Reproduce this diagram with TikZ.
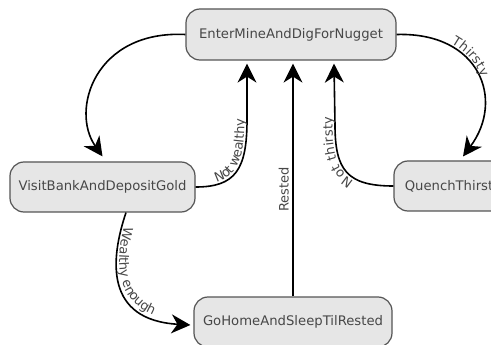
\documentclass[tikz,border=0pt]{standalone}
\usepackage{fontspec}
\setmainfont{DejaVu Sans}
\usetikzlibrary{arrows.meta,decorations.text}
\definecolor{nodefill}{HTML}{E6E6E6}
\definecolor{nodeborder}{HTML}{555555}
\definecolor{txtgray}{HTML}{474747}
\newcommand\statefont{\fontsize{13.2}{16}\selectfont}
\newcommand\lblsize{\fontsize{13}{16}\selectfont}
\tikzset{
  state/.style={draw=nodeborder, line width=1.2pt, fill=nodefill, rounded corners=14pt,
    text=txtgray, font=\statefont, inner sep=0pt},
  trans/.style={line width=1.6pt, -{Stealth[length=19pt,width=19pt,inset=6pt]}},
  lbl/.style 2 args={postaction={decorate, decoration={text along path,
    text={#2}, text color=txtgray, raise=2.5pt, text align={left indent=#1}}}},
  plainlbl/.style={text=txtgray, font=\lblsize}
}
\begin{document}
\begin{tikzpicture}[x=1pt,y=-1pt]
\useasboundingbox (0,0) rectangle (491,345);
\clip (0,0) rectangle (491,345);
\fill[white] (0,0) rectangle (491,345);
\node[state, minimum width=210pt, minimum height=51pt] (mine) at (291,34.5) {EnterMineAndDigForNugget};
\node[state, minimum width=185pt, minimum height=50pt] (visit) at (102.5,187) {VisitBankAndDepositGold};
\node[state, minimum width=110pt, minimum height=50pt] (quench) at (449,186) {QuenchThirst};
\node[state, minimum width=198pt, minimum height=50pt] (gohome) at (293,322) {GoHomeAndSleepTilRested};

\draw[trans] (mine.west) .. controls (95,30) and (70,110) .. ([yshift=5pt]visit.north);
\draw[trans] (gohome.north) -- node[pos=0.46, sloped, above, plainlbl] {Rested} ([xshift=2pt,yshift=-3pt]mine.south);
{\lblsize
\draw[trans, lbl={22pt}{Not wealthy}] (visit.east) .. controls (235,187) and (247,170) .. (247,120) -- ([xshift=-44pt,yshift=-3pt]mine.south);
\draw[trans, lbl={39pt}{Not thirsty}] (quench.west) .. controls (347,186) and (335,170) .. (335,125) -- ([xshift=43pt,yshift=-3pt]mine.south);
\draw[trans, lbl={55pt}{Thirsty}] (mine.east) .. controls (480,32) and (505,100) .. ([xshift=14pt,yshift=4pt]quench.north);
\draw[trans, lbl={14pt}{Wealthy enough}] ([xshift=23.5pt]visit.south) .. controls (110,260) and (105,320) .. ([xshift=-3pt,yshift=-3pt]gohome.west);
}
\end{tikzpicture}
\end{document}
